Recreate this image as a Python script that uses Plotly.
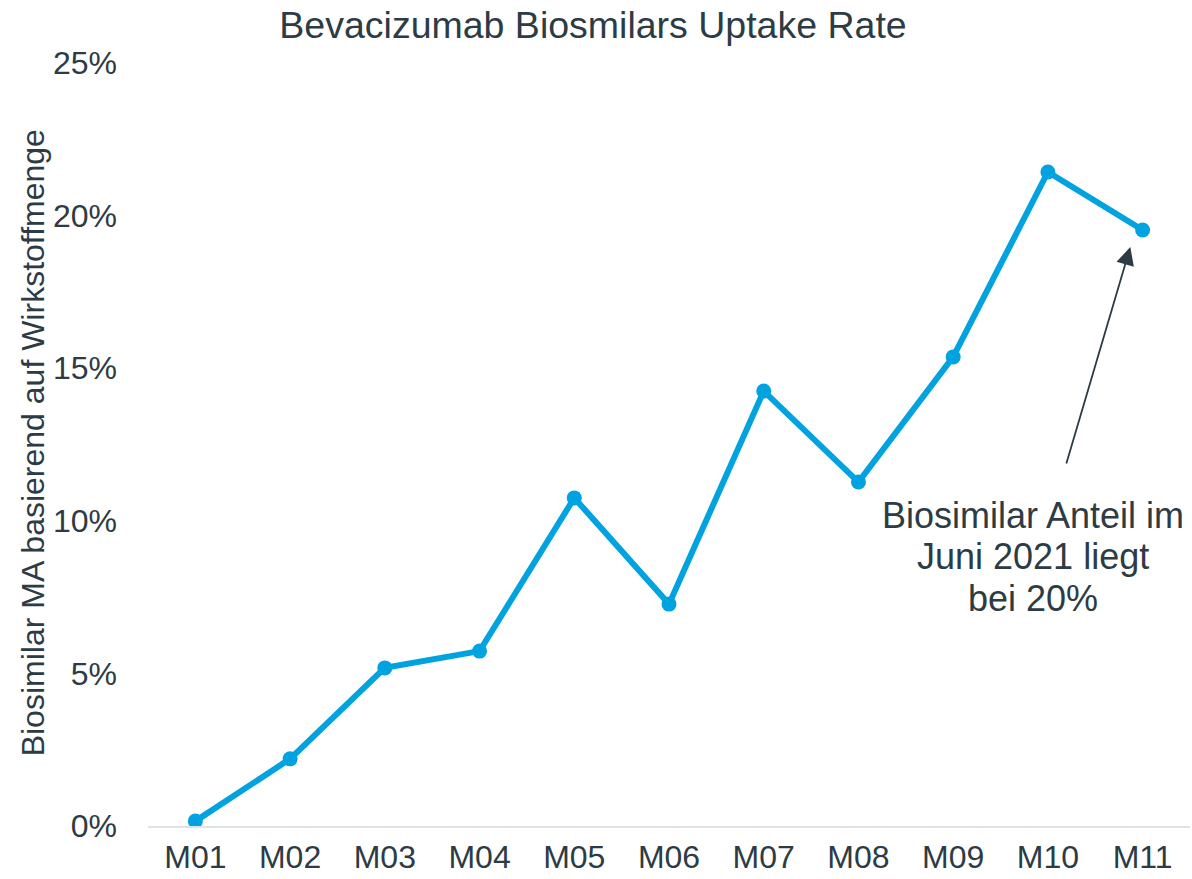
import plotly.graph_objects as go

# Monatskategorien und Biosimilar-Anteil (als Anteil, 0.05 = 5%)
months = ["M01", "M02", "M03", "M04", "M05", "M06", "M07", "M08", "M09", "M10", "M11"]
uptake = [0.0016, 0.022, 0.0518, 0.0573, 0.1075, 0.0727, 0.1425, 0.1127, 0.1537, 0.2143, 0.1953]
y_ticks = [0, 0.05, 0.10, 0.15, 0.20, 0.25]
note_lines = ["Biosimilar Anteil im", "Juni 2021 liegt", "bei 20%"]

TEXT = "#2d3b45"
BLUE = "#00a3e0"

fig = go.Figure()
fig.add_trace(go.Scatter(
    x=months, y=uptake, mode="lines+markers",
    line=dict(color=BLUE, width=6),
    marker=dict(color=BLUE, size=15),
    showlegend=False,
))

# Pfeil auf den letzten Monat
fig.add_annotation(
    x=9.87, y=0.1897, ax=9.19, ay=0.1183,
    xref="x", yref="y", axref="x", ayref="y",
    text="", showarrow=True, arrowhead=2, arrowsize=2.0,
    arrowwidth=1.8, arrowcolor=TEXT,
)
# Hinweistext, Zeile für Zeile (engerer Zeilenabstand wie im Original)
for i, line in enumerate(note_lines):
    fig.add_annotation(
        x=8.84, y=0.1019 - i * 0.0136, xref="x", yref="y",
        text=line, showarrow=False, xanchor="center", yanchor="middle",
        font=dict(size=36, color=TEXT),
    )

# y-Achsentitel als gedrehte Annotation
fig.add_annotation(
    x=-0.110, y=0.502, xref="paper", yref="paper",
    text="Biosimilar MA basierend auf Wirkstoffmenge",
    textangle=-90, showarrow=False, xanchor="center", yanchor="middle",
    font=dict(size=32, color=TEXT),
)

fig.update_layout(
    width=1192, height=879,
    title=dict(text="Bevacizumab Biosmilars Uptake Rate", x=0.4975, xanchor="center",
               y=0.9716, yanchor="middle", font=dict(size=37.5, color=TEXT)),
    font=dict(family="Liberation Sans, Arial, sans-serif", color=TEXT),
    paper_bgcolor="white", plot_bgcolor="white",
    margin=dict(l=148, r=2, t=63, b=53),
)
fig.update_xaxes(
    type="category", range=[-0.5, 10.5], automargin=False,
    showgrid=False, zeroline=False,
    showline=True, linecolor="#dde3e8", linewidth=2,
    ticks="", ticklabelstandoff=2, tickfont=dict(size=32, color=TEXT),
)
fig.update_yaxes(
    range=[0, 0.25], tickvals=y_ticks, tickformat=".0%", automargin=False,
    showgrid=False, zeroline=False, showline=False,
    ticks="", ticklabelstandoff=30,
    tickfont=dict(size=32, color=TEXT),
)

# Seitenrand entfernen, damit das Diagramm genau das Fenster füllt
fig.write_html("out.html", config={"displayModeBar": False},
               post_script="document.body.style.margin='0';")
